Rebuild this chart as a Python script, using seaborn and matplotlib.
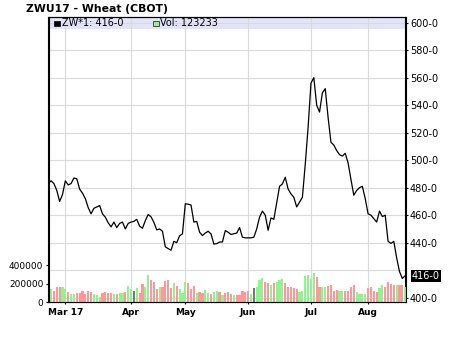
import numpy as np
import pandas as pd
import matplotlib
matplotlib.use("Agg")
import matplotlib.pyplot as plt
import matplotlib.transforms as mtrans
from matplotlib.patches import Rectangle
import seaborn as sns

# ---------------- data ----------------
price = [
    483, 485, 483, 478, 470, 475, 485, 482, 483, 487,
    486.5, 479, 476, 472, 465.5, 461, 465, 466, 467, 461,
    458.5, 454.5, 451.5, 455, 451, 454, 455, 450, 454, 455,
    455.5, 457, 452, 450.5, 456, 460.5, 458.8, 454.8, 449.3, 450,
    448.3, 437, 435.7, 434.5, 441, 440, 445, 446.4, 468.3, 468,
    467.4, 455, 455.5, 447.6, 445.2, 447, 448.3, 446.4, 439, 439.3,
    440.5, 440.5, 448.8, 447.6, 446, 446.5, 447, 451, 444, 443.5,
    443.5, 443.5, 444, 450, 458.6, 463, 460, 449, 458, 457,
    469, 481, 482.7, 487.6, 479, 475.5, 473, 466, 469.5, 473,
    497, 524, 556, 560, 540, 535, 549, 552, 531, 513,
    511, 507, 504, 503, 505, 498, 486, 474.5, 478, 480,
    481, 472, 461, 460, 457.5, 455, 463, 459, 460, 441,
    439.5, 441, 429, 419, 414, 416,
]

volume = [
    140000, 144000, 126000, 166000, 166000, 166000, 144000, 115000, 94000, 94000,
    105000, 105000, 122000, 94000, 122000, 115000, 94000, 83000, 61000, 105000,
    112000, 105000, 105000, 94000, 94000, 105000, 105000, 112000, 177000, 140000,
    122000, 155000, 105000, 198000, 166000, 295000, 241000, 223000, 144000, 166000,
    166000, 230000, 241000, 155000, 209000, 177000, 144000, 101000, 220000, 209000,
    144000, 177000, 101000, 112000, 105000, 133000, 101000, 94000, 112000, 122000,
    112000, 79000, 105000, 112000, 95000, 79000, 79000, 79000, 122000, 112000,
    122000, 94000, 155000, 166000, 241000, 263000, 220000, 205000, 191000, 205000,
    223000, 241000, 252000, 205000, 166000, 166000, 155000, 140000, 112000, 122000,
    285000, 295000, 252000, 317000, 277000, 166000, 166000, 166000, 177000, 184000,
    122000, 133000, 122000, 122000, 122000, 122000, 166000, 191000, 112000, 94000,
    94000, 94000, 155000, 166000, 122000, 112000, 155000, 191000, 166000, 220000,
    198000, 191000, 191000, 191000, 191000, 166000,
]

direction = [
    "u", "u", "d", "d", "d", "u", "u", "d", "u", "u",
    "d", "d", "d", "d", "d", "d", "u", "u", "u", "d",
    "d", "d", "d", "u", "d", "u", "u", "d", "u", "u",
    "f", "u", "d", "d", "u", "u", "d", "d", "d", "u",
    "d", "d", "d", "d", "u", "d", "u", "u", "u", "d",
    "d", "d", "u", "d", "d", "u", "u", "d", "u", "u",
    "d", "u", "d", "d", "d", "u", "d", "d", "d", "d",
    "d", "u", "f", "u", "u", "u", "d", "d", "u", "d",
    "u", "u", "u", "d", "d", "d", "d", "d", "u", "u",
    "u", "u", "u", "u", "d", "d", "u", "u", "d", "d",
    "d", "d", "u", "u", "d", "d", "d", "d", "u", "u",
    "u", "u", "d", "d", "d", "d", "u", "u", "d", "d",
    "d", "d", "u", "d", "d", "u",
]

month_labels = ["Mar 17", "Apr", "May", "Jun", "Jul", "Aug"]
month_start_idx = [6, 29, 48, 70, 92, 112]   # trading-day index of each month's first session

price_ticks = [400, 420, 440, 460, 480, 500, 520, 540, 560, 580, 600]
volume_ticks = [0, 200000, 400000]
last_price = 416
last_volume = 123233
title = "ZWU17 - Wheat (CBOT)"
symbol = "ZW*1"

df = pd.DataFrame({
    "day": np.arange(len(price)),
    "price": price,
    "volume": volume,
    "dir": direction,
})

# ---------------- styling ----------------
plt.rcParams["font.family"] = ["DejaVu Sans"]
GRID = "#dadada"
palette = {"u": "#90f290", "d": "#ff9898", "f": "#787878"}

W, H = 474, 346
L, R, T, B = 48.5, 405.5, 17.3, 302.3
fig = plt.figure(figsize=(W / 100, H / 100), dpi=100)
fig.patch.set_facecolor("white")
ax_v = fig.add_axes([L / W, 1 - B / H, (R - L) / W, (B - T) / H])
ax_p = ax_v.twinx()
ax_p.set_zorder(0)
ax_v.set_zorder(1)
ax_v.patch.set_visible(False)

# ---- price axis (drawn underneath) ----
ax_p.set_ylim(396.65, 603.9)
ax_p.axhspan(595.64, 603.9, color="#e3e3fa", lw=0, zorder=0.3)
ax_p.set_yticks(price_ticks)
ax_p.set_yticklabels(["" if v == 420 else f"{v}-0" for v in price_ticks])
ax_p.grid(axis="y", color=GRID, lw=0.8)
ax_p.set_axisbelow(True)
for t in month_start_idx:
    ax_p.axvline(t, color=GRID, lw=0.8, zorder=0.6)
sns.lineplot(data=df, x="day", y="price", ax=ax_p, color="black",
             linewidth=0.9, estimator=None, zorder=3)
ax_p.set_ylabel("")
ax_p.tick_params(axis="y", right=True, length=2.2, width=0.8, pad=1.0,
                 labelsize=7, colors="black")
ax_p.yaxis.get_major_ticks()[1].tick2line.set_visible(False)

trans = mtrans.blended_transform_factory(ax_p.transAxes, ax_p.transData)
ax_p.text(1.0175, last_price, f"{last_price}-0", transform=trans, color="white",
          fontsize=7, va="center", ha="left",
          bbox=dict(boxstyle="square,pad=0.12", fc="black", ec="none"))

# ---- volume axis (drawn on top) ----
sns.barplot(data=df, x="day", y="volume", hue="dir", palette=palette,
            native_scale=True, dodge=False, width=0.76, saturation=1,
            errorbar=None, legend=False, ax=ax_v, zorder=2, linewidth=0)
ax_v.set_ylim(0, 3.081e6)
ax_v.set_xlim(0.1, 125.1)
ax_v.set_yticks(volume_ticks)
ax_v.set_yticklabels([str(v) for v in volume_ticks])
ax_v.set_xticks(month_start_idx)
ax_v.set_xticklabels(month_labels, fontweight="bold", fontsize=6.5)
ax_v.set_xlabel("")
ax_v.set_ylabel("")
ax_v.tick_params(axis="y", left=True, length=2.2, width=0.8, pad=1.5,
                 labelsize=6.5)
ax_v.tick_params(axis="x", bottom=True, length=1.6, width=0.8, pad=2.2)
ax_v.grid(False)

for ax in (ax_v, ax_p):
    for s in ax.spines.values():
        s.set_color("black")
        s.set_linewidth(0.8)
        s.set_visible(True)

# ---- title and legend strip ----
fig.text(26 / W, 1 - 8.7 / H, title, fontweight="bold", fontsize=7.8,
         ha="left", va="center")
fig.add_artist(Rectangle((54 / W, 1 - 26 / H), 5.5 / W, 5.5 / H,
                         transform=fig.transFigure, facecolor="black",
                         edgecolor="black", lw=0.5))
fig.text(61.5 / W, 1 - 23.2 / H, f"{symbol}: {last_price}-0", fontsize=7,
         ha="left", va="center")
fig.add_artist(Rectangle((153 / W, 1 - 26 / H), 5.5 / W, 5.5 / H,
                         transform=fig.transFigure, facecolor=palette["u"],
                         edgecolor="#333333", lw=0.6))
fig.text(160.5 / W, 1 - 23.2 / H, f"Vol: {last_volume}", fontsize=7,
         ha="left", va="center")

fig.savefig("out.png", dpi=100)
